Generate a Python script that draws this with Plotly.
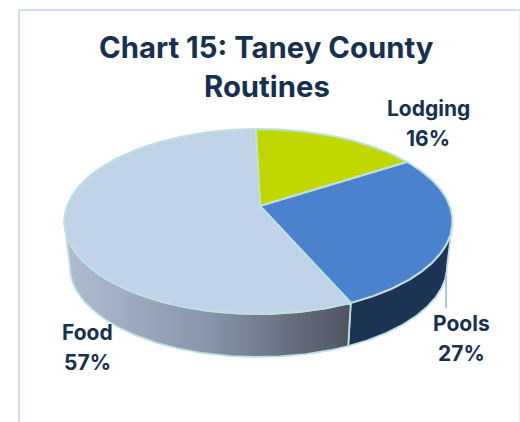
import numpy as np
import plotly.graph_objects as go

categories = ["Lodging", "Pools", "Food"]
values = [16, 27, 57]
colors = ["#C1D800", "#4A82CE", "#BFD2E8"]
wall_colors = [None, "#1D3454", None]
INK = "#17304F"
EDGE = "#BEE0DE"

# projection of the tilted pie
X0, Y0, A, B, K, M = 260.0, 206.0, 191.3, 89.9, 0.1676, 0.008
START = -1.5
WARP = 3.0
SCALE_X, SCALE_Y, SHIFT = 0.972, 0.98, 49.3
XC = 258.5
WALL_FROM, WALL_TO = 97.5, 258.5


def top(theta):
    th = np.asarray(theta, dtype=float)
    t = np.radians(th + WARP * np.abs(np.sin(np.radians(th) / 2)))
    u, v = np.sin(t), np.cos(t)
    w = 1 + K * v + M * u
    return X0 + A * u / w, Y0 - B * v / w


def bottom(theta):
    x, y = top(theta)
    return XC + SCALE_X * (x - XC), SCALE_Y * y + SHIFT


fig = go.Figure()
edges = np.cumsum([0] + values) / sum(values) * 360 + START

# side wall between the two extremes of the top face
for i, cat in enumerate(categories):
    a0, a1 = edges[i], edges[i + 1]
    lo, hi = max(a0, WALL_FROM), min(a1, WALL_TO)
    if hi <= lo:
        continue
    th = np.linspace(lo, hi, 160)
    xt, yt = top(th)
    xb, yb = bottom(th)
    xs = np.r_[xt, xb[::-1], xt[0]]
    ys = np.r_[yt, yb[::-1], yt[0]]
    kw = dict(fillcolor=wall_colors[i]) if wall_colors[i] else dict(
        fillgradient=dict(type="horizontal", start=66, stop=352,
                          colorscale=[[0, "#AEBDD2"], [0.5, "#8795A9"], [1, "#4E535F"]]))
    fig.add_trace(go.Scatter(x=xs, y=ys, mode="lines", fill="toself",
                             line=dict(color=EDGE, width=1.8), showlegend=False,
                             hoverinfo="skip", **kw))

# top face
for i, cat in enumerate(categories):
    th = np.linspace(edges[i], edges[i + 1], 200)
    x, y = top(th)
    fig.add_trace(go.Scatter(x=np.r_[X0, x, X0], y=np.r_[Y0, y, Y0], mode="lines", fill="toself",
                             fillcolor=colors[i], line=dict(color=EDGE, width=2),
                             name=cat, showlegend=False, hoverinfo="skip"))

texts = [
    ("Chart 15: Taney County", 266.5, 47, 29.3),
    ("Routines", 266.5, 86, 29.3),
    ("Lodging", 428, 108, 21),
    ("16%", 428, 138, 21),
    ("Pools", 461, 323, 21),
    ("27%", 461, 353, 21),
    ("Food", 87, 332, 21),
    ("57%", 87, 362, 21),
]
annotations = [dict(x=x, y=y, text=t, showarrow=False, xref="x", yref="y", align="center",
                    font=dict(family="Inter", size=s, color=INK, weight=700))
               for t, x, y, s in texts]

shapes = [
    dict(type="line", xref="x", yref="y", x0=19, y0=9, x1=19, y1=422,
         line=dict(color="#CFE0F5", width=2), layer="below"),
    dict(type="line", xref="x", yref="y", x0=18, y0=10, x1=520, y1=10,
         line=dict(color="#CFE0F5", width=2), layer="below"),
    dict(type="line", xref="x", yref="y", x0=519.5, y0=11, x1=519.5, y1=422,
         line=dict(color="#F0F0F0", width=1), layer="below"),
    dict(type="line", xref="x", yref="y", x0=446, y0=275, x1=446, y1=308,
         line=dict(color="#A9C5EC", width=2)),
]

fig.update_layout(
    width=520, height=422, margin=dict(l=0, r=0, t=0, b=0),
    paper_bgcolor="white", plot_bgcolor="white", showlegend=False,
    xaxis=dict(range=[0, 520], visible=False, fixedrange=True),
    yaxis=dict(range=[422, 0], visible=False, fixedrange=True),
    annotations=annotations, shapes=shapes,
)
fig.write_html("out.html", config=dict(displayModeBar=False),
               post_script="document.body.style.margin='0';")
